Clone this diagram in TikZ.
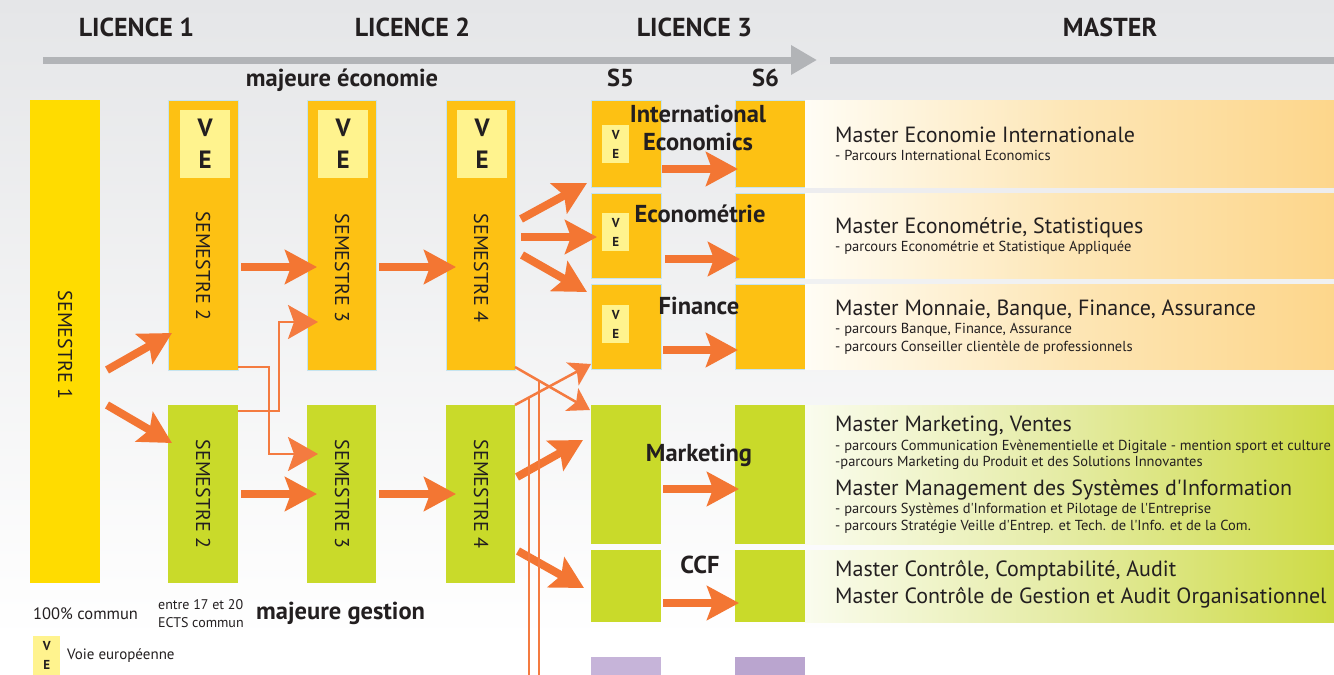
\documentclass[tikz,border=0pt]{standalone}
\usepackage{fontspec}
\defaultfontfeatures[\rmfamily]{}
\setmainfont{PT Sans}
\usetikzlibrary{positioning,calc,arrows.meta}

\definecolor{ink}{HTML}{231F20}
\definecolor{orangebox}{HTML}{FDC113}
\definecolor{greenbox}{HTML}{C9DA2A}
\definecolor{yellowbox}{HTML}{FFDC00}
\definecolor{veyellow}{HTML}{FFF38E}
\definecolor{arrorange}{HTML}{F37633}
\definecolor{linkorange}{HTML}{F47B40}
\definecolor{timeline}{HTML}{B2B4B7}
\definecolor{edgeblue}{HTML}{C5E4EF}
\definecolor{bgtop}{HTML}{E5E6E8}
\definecolor{lilac}{HTML}{C6B4D9}
\definecolor{lilacdk}{HTML}{BAA5CF}
\definecolor{panelor}{HTML}{FDD68B}
\definecolor{panelom}{HTML}{FDE6B6}
\definecolor{panelw}{HTML}{FFFDF5}
\definecolor{panelgr}{HTML}{CEDB45}
\definecolor{panelgm}{HTML}{E4EBA2}
\definecolor{panelgw}{HTML}{FAFCEE}

\newcommand{\fs}[2]{\fontsize{#1}{#2}\selectfont}

\begin{document}
\begin{tikzpicture}[x=1pt, y=-1pt,
    box/.style = {anchor=north west, inner sep=0pt, outer sep=0pt, minimum width=70pt},
    obox/.style = {box, fill=orangebox, draw=edgeblue, line width=0.8pt},
    gbox/.style = {box, fill=greenbox},
    vebox/.style = {anchor=north west, inner sep=0pt, fill=veyellow, align=center, text=ink},
    vebig/.style = {vebox, minimum width=50pt, minimum height=68pt, font=\fs{25}{32}\bfseries},
    vesmall/.style = {vebox, minimum width=27pt, minimum height=38pt, font=\fs{13}{19}\bfseries},
    sem/.style = {rotate=-90, text=ink, font=\fs{20}{24}},
    yearlbl/.style = {anchor=base, text=ink, font=\fs{26}{28}\bfseries},
    track/.style = {anchor=base, text=ink, font=\fs{24.5}{28.4}\bfseries, align=center},
    mtitle/.style = {anchor=base west, inner sep=0pt, text=ink, font=\fs{22}{24}},
    msub/.style = {anchor=base west, inner sep=0pt, text=ink, font=\fs{14.5}{16}},
    legtxt/.style = {inner sep=0pt, text=ink, font=\fs{15}{18}},
    panel/.style = {anchor=north west, inner sep=0pt, outer sep=0pt, minimum width=529pt},
    fat/.style = {draw=arrorange, line width=8pt, -{Stealth[length=32pt, width=34pt, inset=6pt]}},
    link/.style = {draw=linkorange, line width=2.5pt, -{Stealth[length=30pt, width=34pt, inset=6pt]}},
    xlink/.style = {draw=linkorange, line width=2.5pt, -{Stealth[length=21pt, width=26pt, inset=5pt]}},
    rail/.style = {draw=linkorange, line width=2.5pt}
  ]
  \useasboundingbox (0,0) rectangle (1334,675);
  \shade[top color=bgtop, bottom color=white] (0,0) rectangle (1334,640);
  \fill[white] (0,640) rectangle (1334,675);

  % years
  \node[yearlbl] (lic1) at (136.5,36) {LICENCE 1};
  \node[yearlbl] (lic2) at (412.5,36) {LICENCE 2};
  \node[yearlbl] (lic3) at (694.5,36) {LICENCE 3};
  \node[yearlbl] (mast) at (1110,36) {MASTER};
  \coordinate (tl0) at (43,60);
  \coordinate (tl1) at (817,60);
  \coordinate (tm0) at (830,60);
  \coordinate (tm1) at (1334,60);
  \draw[timeline, line width=7pt, -{Triangle[length=26pt, width=28pt]}] (tl0) -- (tl1);
  \draw[timeline, line width=7pt] (tm0) -- (tm1);
  \node[track] (majeco) at (342,86) {majeure économie};
  \node[track] (s5) at (620.5,86) {S5};
  \node[track] (s6) at (765.5,86) {S6};

  % licence 1 and 2
  \node[box, fill=yellowbox, minimum height=483pt] (sem1) at (30,100) {};
  \node[obox, minimum height=270pt] (sem2e) at (168,100) {};
  \node[gbox, minimum height=178pt] (sem2g) at (168,405) {};
  \node[obox, minimum width=69pt, minimum height=270pt] (sem3e) at (307,100) {};
  \node[gbox, minimum width=69pt, minimum height=178pt] (sem3g) at (307,405) {};
  \node[obox, minimum width=69pt, minimum height=270pt] (sem4e) at (446,100) {};
  \node[gbox, minimum width=69pt, minimum height=178pt] (sem4g) at (446,405) {};
  \node[vebig] (ve2) at (180,110) {V\\E};
  \node[vebig] (ve3) at (318,110) {V\\E};
  \node[vebig] (ve4) at (457,110) {V\\E};
  \node[sem] (t1) at (65,345) {SEMESTRE 1};
  \node[sem] (t2e) at (203,266) {SEMESTRE 2};
  \node[sem] (t2g) at (203,494) {SEMESTRE 2};
  \node[sem] (t3e) at (342,268) {SEMESTRE 3};
  \node[sem] (t3g) at (342,494) {SEMESTRE 3};
  \node[sem] (t4e) at (481,268) {SEMESTRE 4};
  \node[sem] (t4g) at (481,494) {SEMESTRE 4};

  % licence 3, S5 and S6
  \foreach \col/\s in {591/5, 735/6} {
    \node[obox, minimum height=87pt] (ie\s) at (\col,100) {};
    \node[obox, minimum height=85pt] (eco\s) at (\col,193) {};
    \node[obox, minimum height=85pt] (fin\s) at (\col,284) {};
    \node[gbox, minimum height=139pt] (mkt\s) at (\col,405) {};
    \node[gbox, minimum height=72pt] (ccf\s) at (\col,550) {};
  }
  \node[box, fill=lilac, minimum height=18pt] (pur5) at (591,657) {};
  \node[box, fill=lilacdk, minimum height=18pt] (pur6) at (735,657) {};
  \node[vesmall] (veie) at (602,125) {V\\E};
  \node[vesmall] (veeco) at (602,213) {V\\E};
  \node[vesmall] (vefin) at (602,305) {V\\E};
  \node[track] (lie) at (698,150.7) {International\\Economics};
  \node[track] (leco) at (700,222.7) {Econométrie};
  \node[track] (lfin) at (699,314) {Finance};
  \node[track] (lmkt) at (699,461) {Marketing};
  \node[track] (lccf) at (700,573.3) {CCF};

  % masters
  \node[panel, minimum height=87pt, left color=panelw, right color=panelor, middle color=panelom] (mie) at (805,100) {};
  \node[panel, minimum height=85pt, left color=panelw, right color=panelor, middle color=panelom] (mes) at (805,193) {};
  \node[panel, minimum height=85pt, left color=panelw, right color=panelor, middle color=panelom] (mmb) at (805,284) {};
  \node[panel, minimum height=139pt, left color=panelgw, right color=panelgr, middle color=panelgm] (mmk) at (805,405) {};
  \node[panel, minimum height=72pt, left color=panelgw, right color=panelgr, middle color=panelgm] (mcc) at (805,550) {};
  \node[mtitle] (mie1) at (835,142.7) {Master Economie Internationale};
  \node[msub] (mie2) at (835,160.7) {- Parcours International Economics};
  \node[mtitle] (mes1) at (835,233) {Master Econométrie, Statistiques};
  \node[msub] (mes2) at (835,251.7) {- parcours Econométrie et Statistique Appliquée};
  \node[mtitle] (mmb1) at (835,315.3) {Master Monnaie, Banque, Finance, Assurance};
  \node[msub] (mmb2) at (835,333.3) {- parcours Banque, Finance, Assurance};
  \node[msub] (mmb3) at (835,351.3) {- parcours Conseiller clientèle de professionnels};
  \node[mtitle] (mmk1) at (835,431.7) {Master Marketing, Ventes};
  \node[msub] (mmk2) at (835,450) {- parcours Communication Evènementielle et Digitale - mention sport et culture};
  \node[msub] (mmk3) at (835,466.7) {-parcours Marketing du Produit et des Solutions Innovantes};
  \node[mtitle] (msi1) at (835,495) {Master Management des Systèmes d'Information};
  \node[msub] (msi2) at (835,513.3) {- parcours Systèmes d'Information et Pilotage de l'Entreprise};
  \node[msub] (msi3) at (835,530) {- parcours Stratégie Veille d'Entrep. et Tech. de l'Info. et de la Com.};
  \node[mtitle] (mcc1) at (835,576.7) {Master Contrôle, Comptabilité, Audit};
  \node[mtitle] (mcc2) at (835,603.3) {Master Contrôle de Gestion et Audit Organisationnel};

  % legend
  \node[legtxt, anchor=west, font=\fs{16.5}{18}] (pct) at (33,614) {100\% commun};
  \node[legtxt, anchor=west, align=left, font=\fs{14}{18}] (ects) at (158,614) {entre 17 et 20\\ECTS commun};
  \node[anchor=west, inner sep=0pt, text=ink, font=\fs{24.5}{26}\bfseries] (majges) at (256,613) {majeure gestion};
  \node[vesmall, minimum height=39pt] (veleg) at (33,636) {V\\E};
  \node[legtxt, anchor=west] (velbl) at (67,656) {Voie européenne};

  % thick arrows
  \draw[fat] ($(sem1.north east)+(7,270)$) -- ($(sem2e.north west)+(4,233)$);
  \draw[fat] ($(sem1.north east)+(7,305)$) -- ($(sem2g.north west)+(4,38)$);
  \draw[fat] ($(sem2e.north east)+(3,167)$) -- ($(sem3e.north west)+(10,167)$);
  \draw[fat] ($(sem3e.north east)+(3,167)$) -- ($(sem4e.north west)+(10,167)$);
  \draw[fat] ($(sem2g.north east)+(3,89)$) -- ($(sem3g.north west)+(10,89)$);
  \draw[fat] ($(sem3g.north east)+(3,89)$) -- ($(sem4g.north west)+(10,89)$);
  \draw[fat] ($(sem4e.north east)+(6,119)$) -- ($(ie5.north west)+(-4,83)$);
  \draw[fat] ($(sem4e.north east)+(6,137)$) -- ($(eco5.north west)+(6,44)$);
  \draw[fat] ($(sem4e.north east)+(7,155)$) -- ($(fin5.north west)+(-4,8)$);
  \draw[fat] ($(sem4g.north east)+(2,72)$) -- ($(mkt5.north west)+(-8,35)$);
  \draw[fat] ($(sem4g.north east)+(3,146)$) -- ($(ccf5.north west)+(-7,38)$);
  \draw[fat] ($(ie5.north east)+(1,69)$) -- ($(ie6.north west)+(3,69)$);
  \draw[fat] ($(eco5.north east)+(4,66)$) -- ($(eco6.north west)+(5,66)$);
  \draw[fat] ($(fin5.north east)+(2,66)$) -- ($(fin6.north west)+(3,66)$);
  \draw[fat] ($(mkt5.north east)+(2,84)$) -- ($(mkt6.north west)+(4,84)$);
  \draw[fat] ($(ccf5.north east)+(2,53)$) -- ($(ccf6.north west)+(4,53)$);

  % thin crossings
  \draw[link] ($(sem2e.south east)+(0,-3)$) -- ++(31,0) |- ($(sem3g.north west)+(11,49)$);
  \draw[link] ($(sem2g.north east)+(0,6)$) -- ++(41,0) |- ($(sem3e.north west)+(11,222)$);
  \coordinate (bot) at (0,675);
  \draw[xlink] ($(sem4e.south east)+(0,-3)$) -- coordinate[pos=0.32] (bre) ($(mkt5.north west)+(-1,5)$);
  \draw[xlink] (sem4g.north east) -- coordinate[pos=0.184] (brg) ($(fin5.south west)+(0,-5)$);
  \draw[rail] (bre) -- (bre |- bot);
  \draw[rail] (brg) -- (brg |- bot);
\end{tikzpicture}
\end{document}
